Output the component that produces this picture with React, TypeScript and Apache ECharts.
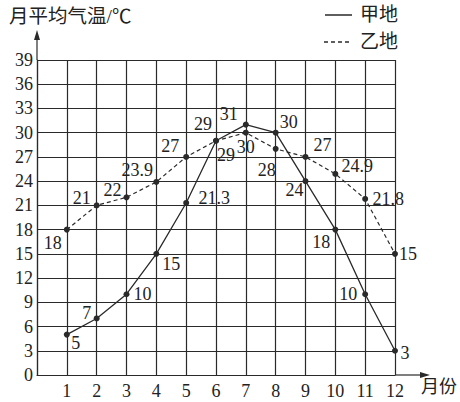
import React, { useEffect, useRef } from "react";
import * as echarts from "echarts";

// ---- data ----
const months = [1, 2, 3, 4, 5, 6, 7, 8, 9, 10, 11, 12];
const jiaValues = [5, 7, 10, 15, 21.3, 29, 31, 30, 24, 18, 10, 3];
const yiValues = [18, 21, 22, 23.9, 27, 29, 30, 28, 27, 24.9, 21.8, 15];
const seriesNames = ["甲地", "乙地"];
const yAxisTitle = "月平均气温/℃";
const xAxisTitle = "月份";

// ---- label placement (styling) ----
const jiaLabelOffsets = [
  [9, 8], [-10, -5], [16, 0], [15, 10], [28, -5], [-13, -17],
  [-17, -11], [13, -11], [-11, 9], [-14, 12], [-17, 0], [10, 2],
];
const yiLabelOffsets = [
  [-14, 13], [-15, -7], [-14, -7], [-19, -12], [-16, -11], [10, 14],
  [0, 14], [-9, 21], [17, -12], [22, -8], [23, 0], [13, 0],
];

const INK = "#2a2a2a";
const FONT = "Liberation Serif, Times New Roman, Noto Sans CJK SC, serif";

export default function App() {
  const ref = useRef<HTMLDivElement>(null);
  useEffect(() => {
    if (!ref.current) return;
    const chart = echarts.init(ref.current, undefined, { renderer: "svg" });
    const left = 37, top = 60, right = 65, bottom = 27;
    const W = 460, H = 402;
    const x0 = left, y0 = H - bottom;

    const mk = (vals: number[], offs: number[][]) =>
      months.map((m, i) => ({
        value: [m, vals[i]],
        label: { offset: offs[i] },
      }));

    const labelStyle = {
      show: true,
      position: "inside",
      color: "#222",
      fontFamily: FONT,
      fontSize: 18,
      formatter: (p: any) => String(p.value[1]),
    };

    chart.setOption({
      animation: false,
      backgroundColor: "#ffffff",
      grid: { left, top, right, bottom },
      xAxis: {
        type: "value",
        min: 0,
        max: 12,
        interval: 1,
        axisLine: { show: true, lineStyle: { color: INK, width: 1.2 } },
        axisTick: { show: false },
        axisLabel: {
          color: "#222",
          fontFamily: FONT,
          fontSize: 18,
          margin: 7,
          formatter: (v: number) => (v === 0 ? "" : String(v)),
        },
        splitLine: { show: true, lineStyle: { color: INK, width: 1.2 } },
      },
      yAxis: {
        type: "value",
        min: 0,
        max: 39,
        interval: 3,
        axisLine: { show: true, lineStyle: { color: INK, width: 1.2 } },
        axisTick: { show: false },
        axisLabel: {
          color: "#222",
          fontFamily: FONT,
          fontSize: 18,
          margin: 4,
        },
        splitLine: { show: true, lineStyle: { color: INK, width: 1.2 } },
      },
      series: [
        {
          name: seriesNames[0],
          type: "line",
          data: mk(jiaValues, jiaLabelOffsets),
          symbol: "circle",
          symbolSize: 6,
          itemStyle: { color: INK },
          lineStyle: { color: INK, width: 1.3, type: "solid" },
          label: labelStyle,
          z: 3,
        },
        {
          name: seriesNames[1],
          type: "line",
          data: mk(yiValues, yiLabelOffsets),
          symbol: "circle",
          symbolSize: 6,
          itemStyle: { color: INK },
          lineStyle: { color: INK, width: 1.2, type: [4, 3] },
          label: labelStyle,
          z: 3,
        },
      ],
      graphic: [
        // y axis arrow
        { type: "line", shape: { x1: x0, y1: top, x2: x0, y2: 36 }, style: { stroke: INK, lineWidth: 1.2 } },
        { type: "polygon", shape: { points: [[x0, 30], [x0 - 3, 40], [x0 + 3, 40]] }, style: { fill: INK } },
        // x axis arrow
        { type: "line", shape: { x1: W - right, y1: y0, x2: 424, y2: y0 }, style: { stroke: INK, lineWidth: 1.2 } },
        { type: "polygon", shape: { points: [[430, y0], [420, y0 - 3], [420, y0 + 3]] }, style: { fill: INK } },
        // axis titles
        { type: "text", left: 9, top: 7, style: { text: yAxisTitle, fill: "#222", font: `19.5px ${FONT}` } },
        { type: "text", left: 421, top: 378, style: { text: xAxisTitle, fill: "#222", font: `18px ${FONT}` } },
        // legend
        { type: "line", shape: { x1: 325, y1: 15, x2: 352, y2: 15 }, style: { stroke: INK, lineWidth: 1.5 } },
        { type: "text", left: 360, top: 5, style: { text: seriesNames[0], fill: "#222", font: `19px ${FONT}` } },
        { type: "line", shape: { x1: 324, y1: 42, x2: 352, y2: 42 }, style: { stroke: INK, lineWidth: 1.5, lineDash: [4, 3] } },
        { type: "text", left: 360, top: 32, style: { text: seriesNames[1], fill: "#222", font: `19px ${FONT}` } },
      ],
    });
    return () => chart.dispose();
  }, []);
  return (
    <div
      ref={ref}
      style={{ position: "fixed", left: 0, top: 0, width: 460, height: 402 }}
    />
  );
}
